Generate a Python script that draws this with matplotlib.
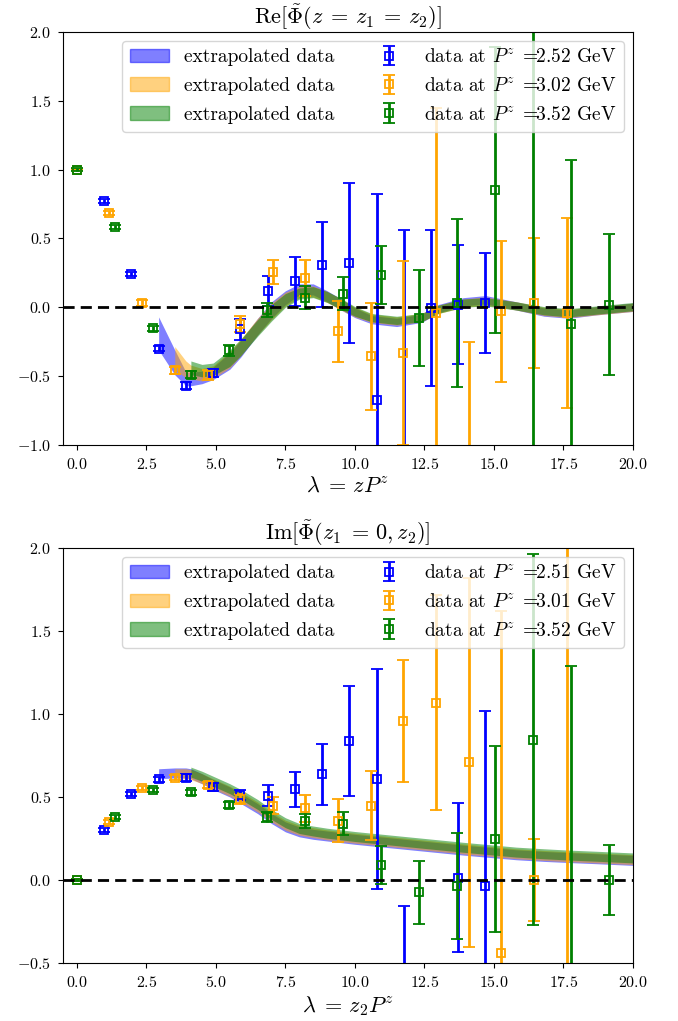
import numpy as np
import matplotlib
matplotlib.use("Agg")
import matplotlib.pyplot as plt
from matplotlib.patches import Patch

plt.rcParams["mathtext.fontset"] = "cm"
plt.rcParams["font.family"] = "serif"
plt.rcParams["font.serif"] = ["cmr10", "DejaVu Serif"]
plt.rcParams["axes.formatter.use_mathtext"] = True

# ---------------- data: real part ----------------
lam_b = [0, 0.98, 1.96, 2.94, 3.92, 4.90, 5.88, 6.86, 7.84, 8.82, 9.80, 10.78, 11.75, 12.73, 13.71, 14.69]
lam_o = [0, 1.17, 2.35, 3.52, 4.70, 5.87, 7.04, 8.22, 9.39, 10.57, 11.74, 12.91, 14.09, 15.26, 16.44, 17.61]
lam_g = [0, 1.37, 2.74, 4.10, 5.47, 6.84, 8.21, 9.58, 10.94, 12.31, 13.68, 15.05, 16.42, 17.78, 19.15]

re_b = [1.0, 0.774, 0.239, -0.30, -0.569, -0.477, -0.16, 0.116, 0.188, 0.31, 0.32, -0.67, -1.3, -0.005, 0.019, 0.031]
re_b_err = [0.005, 0.015, 0.015, 0.02, 0.025, 0.03, 0.075, 0.11, 0.18, 0.31, 0.58, 1.49, 1.86, 0.57, 0.43, 0.36]
re_o = [1.0, 0.687, 0.031, -0.458, -0.49, -0.12, 0.256, 0.213, -0.175, -0.356, -0.332, -0.04, -1.5, -0.03, 0.03, -0.042]
re_o_err = [0.005, 0.015, 0.02, 0.025, 0.035, 0.06, 0.085, 0.13, 0.22, 0.39, 0.67, 1.49, 1.25, 0.51, 0.47, 0.69]
re_g = [1.0, 0.583, -0.153, -0.49, -0.313, -0.022, 0.07, 0.099, 0.232, -0.078, 0.03, 0.854, -1.5, -0.119, 0.019]
re_g_err = [0.01, 0.015, 0.02, 0.025, 0.04, 0.05, 0.085, 0.12, 0.21, 0.35, 0.61, 1.04, 3.8, 1.186, 0.51]

# ---------------- data: imaginary part ----------------
im_b = [0.0, 0.30, 0.516, 0.608, 0.616, 0.562, 0.512, 0.508, 0.546, 0.637, 0.837, 0.608, -0.9, -2.0, 0.014, -0.036]
im_b_err = [0.005, 0.012, 0.012, 0.015, 0.02, 0.025, 0.03, 0.062, 0.107, 0.185, 0.333, 0.66, 0.745, 1.0, 0.45, 1.056]
im_o = [0.0, 0.351, 0.556, 0.616, 0.572, 0.49, 0.448, 0.432, 0.357, 0.448, 0.958, 1.068, 0.709, -0.438, 0.0, -1.2]
im_o_err = [0.005, 0.012, 0.012, 0.015, 0.02, 0.03, 0.05, 0.08, 0.13, 0.206, 0.367, 0.648, 1.11, 2.06, 0.246, 3.5]
im_g = [0.0, 0.381, 0.54, 0.53, 0.452, 0.381, 0.355, 0.339, 0.09, -0.074, -0.034, 0.245, 0.846, -0.6, 0.0]
im_g_err = [0.005, 0.012, 0.012, 0.015, 0.02, 0.03, 0.04, 0.07, 0.113, 0.19, 0.32, 0.56, 1.12, 1.89, 0.213]

# ---------------- extrapolated bands ----------------
band_x = [2.94, 3.52, 3.92, 4.10, 4.5, 4.9, 5.5, 5.9, 6.5, 7.0, 7.5, 8.0, 8.5, 9.0,
          9.5, 10.0, 10.6, 11.5, 12.4, 13.0, 13.9, 14.7, 15.8, 16.8, 17.7, 18.7, 20.0]
band_start = {"blue": 0, "orange": 1, "green": 3}

re_band_mid = {
    "blue": [-0.19, -0.40, -0.52, -0.52, -0.51, -0.48, -0.39, -0.30, -0.14, -0.02, 0.07, 0.13, 0.13, 0.08,
             0.02, -0.04, -0.09, -0.11, -0.08, -0.01, 0.04, 0.055, 0.01, -0.035, -0.05, -0.025, 0.0],
    "orange": [-0.37, -0.45, -0.47, -0.49, -0.47, -0.38, -0.29, -0.14, -0.03, 0.06, 0.11, 0.115, 0.075,
               0.02, -0.035, -0.08, -0.10, -0.075, -0.015, 0.03, 0.045, 0.01, -0.03, -0.045, -0.025, 0.0],
    "green": [-0.44, -0.46, -0.45, -0.37, -0.29, -0.15, -0.04, 0.05, 0.10, 0.11, 0.075,
              0.025, -0.03, -0.075, -0.095, -0.075, -0.015, 0.03, 0.04, 0.01, -0.025, -0.04, -0.02, 0.005],
}
re_band_hw = {
    "blue": [0.12, 0.09, 0.05, 0.05, 0.045, 0.045, 0.06, 0.06, 0.06, 0.06, 0.05, 0.04, 0.04, 0.04,
             0.04, 0.035, 0.03, 0.03, 0.03, 0.03, 0.03, 0.03, 0.03, 0.03, 0.03, 0.03, 0.03],
    "orange": [0.085, 0.06, 0.05, 0.045, 0.045, 0.06, 0.06, 0.06, 0.06, 0.05, 0.04, 0.04, 0.04,
               0.04, 0.035, 0.03, 0.03, 0.03, 0.03, 0.03, 0.03, 0.03, 0.03, 0.03, 0.03, 0.03],
    "green": [0.05, 0.045, 0.045, 0.06, 0.06, 0.06, 0.06, 0.05, 0.04, 0.04, 0.04,
              0.04, 0.035, 0.03, 0.03, 0.03, 0.03, 0.03, 0.03, 0.03, 0.03, 0.03, 0.03, 0.03],
}
im_band_mid = {
    "blue": [0.64, 0.645, 0.645, 0.64, 0.61, 0.575, 0.53, 0.49, 0.43, 0.37, 0.32, 0.29, 0.275, 0.265,
             0.255, 0.245, 0.235, 0.22, 0.205, 0.195, 0.18, 0.168, 0.152, 0.142, 0.135, 0.128, 0.118],
    "orange": [0.64, 0.64, 0.635, 0.61, 0.58, 0.535, 0.50, 0.44, 0.38, 0.33, 0.30, 0.285, 0.272,
               0.262, 0.252, 0.242, 0.227, 0.212, 0.202, 0.187, 0.175, 0.158, 0.148, 0.14, 0.133, 0.123],
    "green": [0.65, 0.625, 0.595, 0.55, 0.515, 0.455, 0.395, 0.345, 0.31, 0.295, 0.282,
              0.272, 0.262, 0.252, 0.237, 0.222, 0.212, 0.197, 0.185, 0.168, 0.158, 0.15, 0.143, 0.133],
}
im_band_hw = 0.03

momenta_re = ["2.52", "3.02", "3.52"]
momenta_im = ["2.51", "3.01", "3.52"]
colors = ["blue", "orange", "green"]


def draw_panel(ax, lams, vals, errs, mids, hws, momenta, ylim, yticks, title, xlabel):
    patches = []
    for c in colors:
        s = band_start[c]
        x = np.array(band_x[s:])
        m = np.array(mids[c])
        h = np.array(hws[c]) if isinstance(hws, dict) else np.full_like(m, hws)
        ax.fill_between(x, m - h, m + h, color=c, alpha=0.5, linewidth=0)
        patches.append(Patch(facecolor=c, alpha=0.5, edgecolor=c, label="extrapolated data"))
    bars = []
    for c, lam, v, e, p in zip(colors, lams, vals, errs, momenta):
        h = ax.errorbar(lam, v, yerr=e, fmt="s", color=c, mfc="none", mec=c, ms=5.5, mew=1.3,
                        elinewidth=2.0, capsize=4.5, capthick=1.6,
                        label=r"data at $P^z\;{=}\!\!$" + p + " GeV")
        bars.append(h)
    ax.axhline(0.0, color="black", ls="--", lw=2, dashes=(4, 2.2), zorder=3)
    ax.set_xlim(-0.5, 20)
    ax.set_ylim(*ylim)
    ax.set_yticks(yticks)
    ax.set_xticks(np.arange(0, 20.1, 2.5))
    ax.tick_params(labelsize=11.5, pad=5)
    ax.set_title(title, fontsize=16, pad=5)
    ax.set_xlabel(xlabel, fontsize=16, labelpad=3)
    ax.legend(handles=patches + bars, loc="upper right", ncol=2, fontsize=14,
              handlelength=2.0, columnspacing=1.8, borderaxespad=0.45, labelspacing=0.55)


fig = plt.figure(figsize=(6.78, 10.21), dpi=100)
ax1 = fig.add_axes([0.0929, 0.5642, 0.8407, 0.4045])
ax2 = fig.add_axes([0.0929, 0.0568, 0.8407, 0.4065])

draw_panel(ax1, [lam_b, lam_o, lam_g], [re_b, re_o, re_g], [re_b_err, re_o_err, re_g_err],
           re_band_mid, re_band_hw, momenta_re, (-1.0, 2.0), np.arange(-1.0, 2.01, 0.5),
           r"$\mathrm{Re}[\tilde{\Phi}(z\;{=}\,z_1\;{=}\,z_2)]$", r"$\lambda\;{=}\,zP^z$")
draw_panel(ax2, [lam_b, lam_o, lam_g], [im_b, im_o, im_g], [im_b_err, im_o_err, im_g_err],
           im_band_mid, im_band_hw, momenta_im, (-0.5, 2.0), np.arange(-0.5, 2.01, 0.5),
           r"$\mathrm{Im}[\tilde{\Phi}(z_1\;{=}\,0,z_2)]$", r"$\lambda\;{=}\,z_2P^z$")

fig.savefig("out.png", dpi=100)
